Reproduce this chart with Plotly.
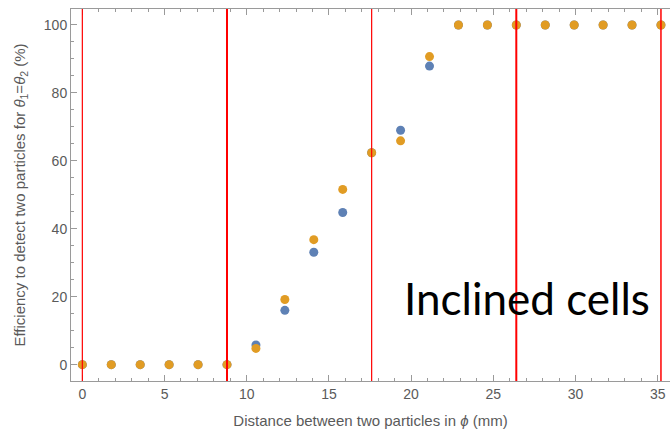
import plotly.graph_objects as go

# Data
distance = [0, 1.76, 3.52, 5.28, 7.04, 8.8, 10.56, 12.32, 14.08, 15.84, 17.6,
            19.36, 21.12, 22.88, 24.64, 26.4, 28.16, 29.92, 31.68, 33.44, 35.2]
eff_blue = [0, 0, 0, 0, 0, 0, 5.8, 16.0, 33.1, 44.8, 62.4,
            69.0, 87.9, 100, 100, 100, 100, 100, 100, 100, 100]
eff_orange = [0, 0, 0, 0, 0, 0, 4.8, 19.2, 36.8, 51.6, 62.4,
              65.9, 90.7, 100, 100, 100, 100, 100, 100, 100, 100]
cell_boundaries = [0, 8.8, 17.6, 26.4, 35.2]
boundary_widths = [1.2, 2, 1.2, 2, 1.5]
x_ticks = [0, 5, 10, 15, 20, 25, 30, 35]
y_ticks = [0, 20, 40, 60, 80, 100]

BLUE = "#5E81B5"
ORANGE = "#E19C24"
FRAME = "#9a9a9a"
LABEL = "#5a5a5a"

fig = go.Figure()
fig.add_trace(go.Scatter(x=distance, y=eff_blue, mode="markers",
                         marker=dict(color=BLUE, size=9), showlegend=False))
fig.add_trace(go.Scatter(x=distance, y=eff_orange, mode="markers",
                         marker=dict(color=ORANGE, size=9), showlegend=False))

for xb, w in zip(cell_boundaries, boundary_widths):
    fig.add_shape(type="line", xref="x", yref="paper", x0=xb, x1=xb, y0=0, y1=1,
                  line=dict(color="#ff0000", width=w), layer="above")

fig.add_annotation(text="Inclined cells", xref="paper", yref="paper",
                   x=0.552, y=0.223, xanchor="left", yanchor="middle",
                   showarrow=False, font=dict(family="Lato", size=44, color="black"))

fig.update_layout(
    width=670, height=432,
    margin=dict(l=71, r=0, t=9, b=51),
    plot_bgcolor="white", paper_bgcolor="white",
    font=dict(family="Liberation Sans, Arial, sans-serif", size=14, color=LABEL),
    xaxis=dict(range=[-0.69, 35.75], tickvals=x_ticks, showgrid=False, zeroline=False,
               showline=True, linecolor=FRAME, linewidth=1, mirror="ticks",
               ticks="inside", ticklen=6, tickcolor=FRAME,
               minor=dict(dtick=1, ticks="inside", ticklen=3, tickcolor=FRAME),
               tickfont=dict(size=14, color=LABEL),
               title=dict(text="Distance between two particles in <i>ϕ</i> (mm)",
                          font=dict(size=15, color=LABEL), standoff=14)),
    yaxis=dict(range=[-4.8, 104.7], tickvals=y_ticks, showgrid=False, zeroline=False,
               showline=True, linecolor=FRAME, linewidth=1,
               ticks="inside", ticklen=6, tickcolor=FRAME,
               minor=dict(dtick=5, ticks="inside", ticklen=3, tickcolor=FRAME),
               tickfont=dict(size=14, color=LABEL),
               title=dict(text="Efficiency to detect two particles for <i>θ</i><sub>1</sub>=<i>θ</i><sub>2</sub> (%)",
                          font=dict(size=15, color=LABEL), standoff=14)),
)

fig.write_html("out.html")
